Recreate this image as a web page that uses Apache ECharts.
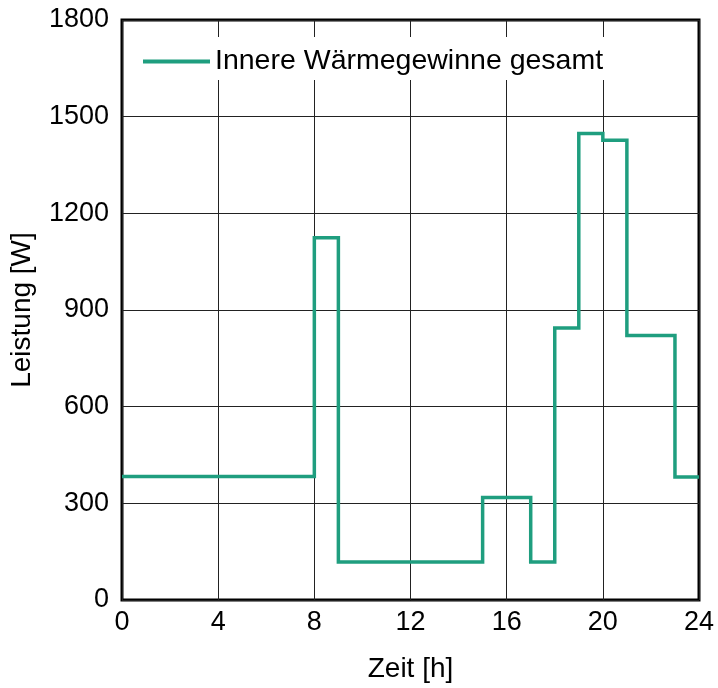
<!DOCTYPE html>
<html>
<head>
<meta charset="utf-8">
<script src="https://cdn.jsdelivr.net/npm/echarts@6/dist/echarts.min.js"></script>
<style>html,body{margin:0;padding:0;background:#fff}#c{width:718px;height:688px}</style>
</head>
<body>
<div id="c"></div>
<script>
const seriesName = 'Innere Wärmegewinne gesamt';
const hours = [0, 8, 9, 15, 17, 18, 19, 20, 21, 23, 24];
const power = [383, 1124, 118, 318, 118, 844, 1448, 1427, 821, 382, 382];
const xTicks = [0, 4, 8, 12, 16, 20, 24];
const yTicks = [0, 300, 600, 900, 1200, 1500, 1800];

const font = 'Liberation Sans, Arial, sans-serif';
const chart = echarts.init(document.getElementById('c'), null, {renderer: 'canvas'});
chart.setOption({
  animation: false,
  backgroundColor: '#fff',
  grid: {left: 119, right: 19, top: 20, bottom: 87, show: true, borderColor: '#000', borderWidth: 3, backgroundColor: 'transparent'},
  legend: {
    left: 135, top: 37, padding: [10, 6, 4, 8],
    backgroundColor: '#fff',
    itemWidth: 67, itemHeight: 4, itemGap: 0,
    icon: 'rect',
    itemStyle: {color: '#1f9e7f', borderWidth: 0},
    textStyle: {fontFamily: font, fontSize: 28.5, color: '#000', lineHeight: 29},
    data: [seriesName]
  },
  xAxis: {
    type: 'value', min: xTicks[0], max: xTicks[xTicks.length - 1], interval: 4,
    name: 'Zeit [h]', nameLocation: 'middle', nameGap: 55,
    nameTextStyle: {fontFamily: font, fontSize: 28, color: '#000'},
    axisLine: {show: false}, axisTick: {show: false},
    axisLabel: {fontFamily: font, fontSize: 27, color: '#000', margin: 9, formatter: v => String(v)},
    splitLine: {show: true, lineStyle: {color: '#222', width: 1}}
  },
  yAxis: {
    type: 'value', min: yTicks[0], max: yTicks[yTicks.length - 1], interval: 300,
    name: 'Leistung [W]', nameLocation: 'middle', nameGap: 86, nameRotate: 90,
    nameTextStyle: {fontFamily: font, fontSize: 28, color: '#000'},
    axisLine: {show: false}, axisTick: {show: false},
    axisLabel: {fontFamily: font, fontSize: 27, color: '#000', margin: 13, formatter: v => String(v)},
    splitLine: {show: true, lineStyle: {color: '#222', width: 1}}
  },
  series: [{
    name: seriesName, type: 'line', step: 'end',
    symbol: 'none', showSymbol: false,
    data: hours.map((h, i) => [h, power[i]]),
    itemStyle: {color: '#1f9e7f'},
    lineStyle: {color: '#1f9e7f', width: 3.5, join: 'miter'}
  }]
});
</script>
</body>
</html>
